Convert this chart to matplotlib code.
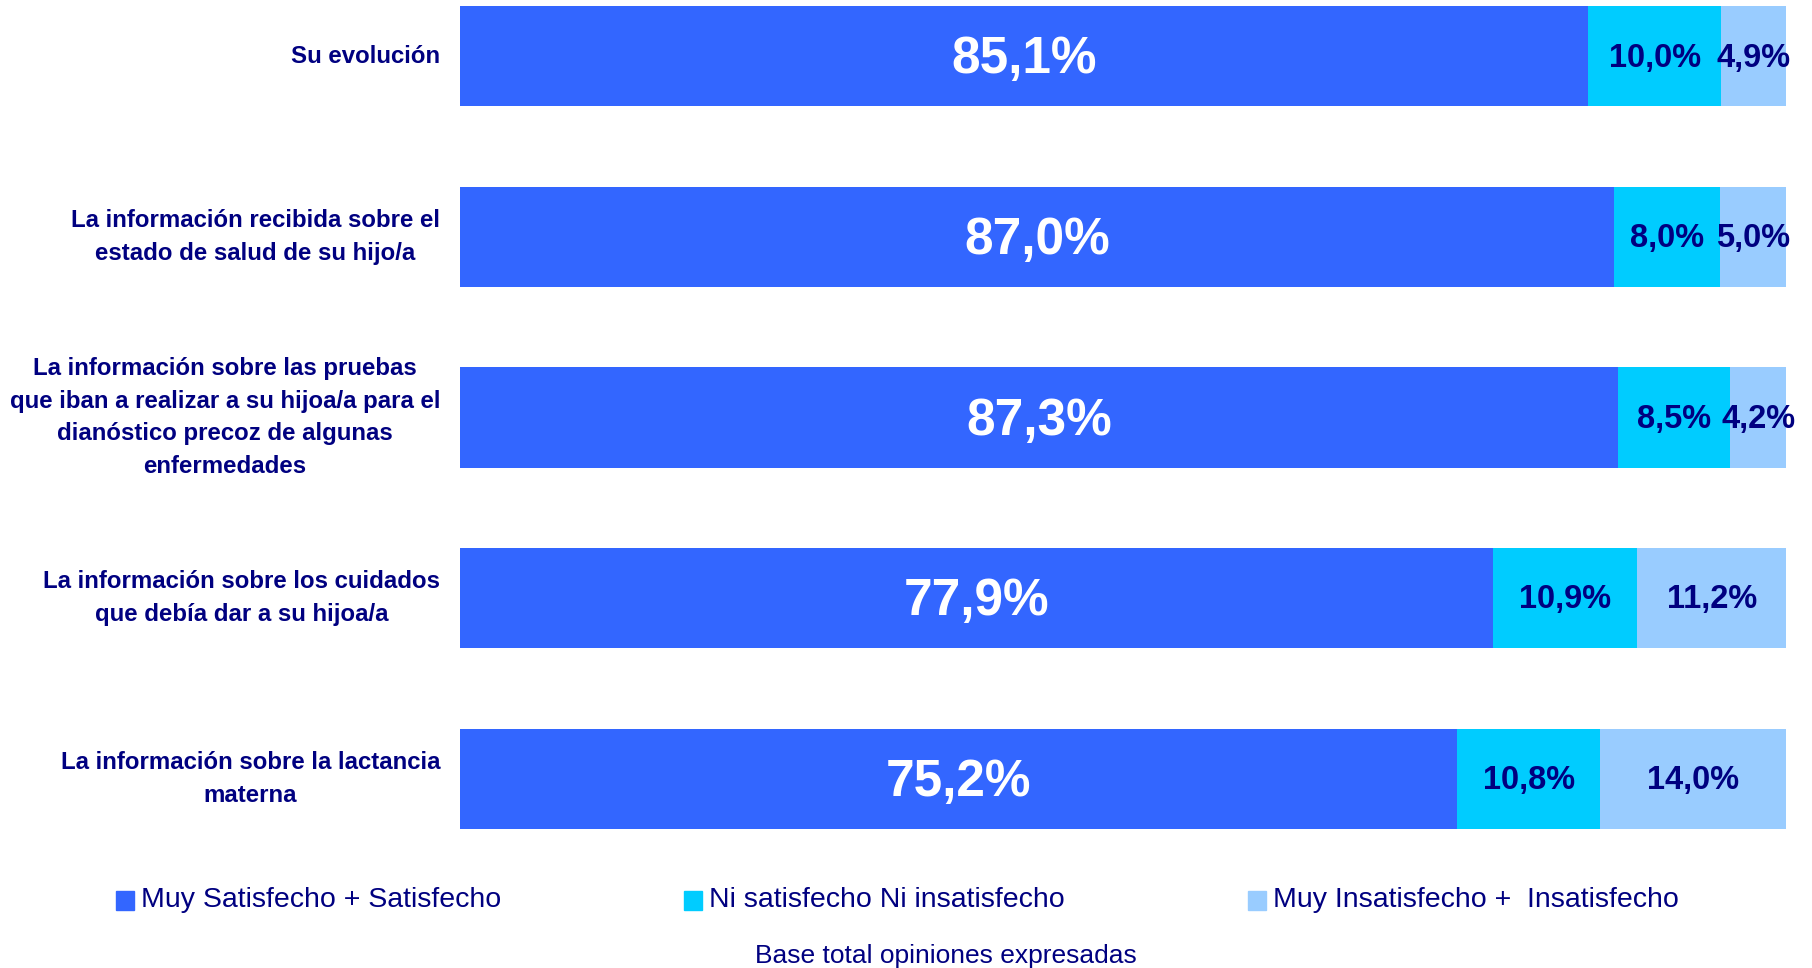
import numpy as np
import matplotlib.pyplot as plt

categories = [
    "Su evolución",
    "La información recibida sobre el\nestado de salud de su hijo/a",
    "La información sobre las pruebas\nque iban a realizar a su hijoa/a para el\ndianóstico precoz de algunas\nenfermedades",
    "La información sobre los cuidados\nque debía dar a su hijoa/a",
    "La información sobre la lactancia\nmaterna",
]
satisfecho = [85.1, 87.0, 87.3, 77.9, 75.2]
ni_ni = [10.0, 8.0, 8.5, 10.9, 10.8]
insatisfecho = [4.9, 5.0, 4.2, 11.2, 14.0]
series_names = ["Muy Satisfecho + Satisfecho", "Ni satisfecho Ni insatisfecho",
                "Muy Insatisfecho +  Insatisfecho"]
colors = ["#3366FF", "#00CCFF", "#99CCFF"]
navy = "#000080"

plt.rcParams['font.family'] = ['Liberation Sans', 'DejaVu Sans']

fig = plt.figure(figsize=(18.12, 9.68), dpi=100)
W, H = 1812, 968
ax = fig.add_axes([460 / W, 1 - 829 / H, (1786 - 460) / W, (829 - 6) / H])

y = np.arange(len(categories))
h = 0.556
left = np.zeros(len(categories))
series = [satisfecho, ni_ni, insatisfecho]
for i, vals in enumerate(series):
    vals = np.array(vals)
    ax.barh(y, vals, left=left, height=h, color=colors[i], label=series_names[i])
    for j, v in enumerate(vals):
        txt = f"{v:.1f}%".replace(".", ",")
        if i == 0:
            ax.text(left[j] + v / 2, y[j] + 0.02, txt, ha='center', va='center',
                    color='white', fontsize=37, fontweight='bold')
        else:
            ax.text(left[j] + v / 2, y[j] + 0.01, txt, ha='center', va='center',
                    color=navy, fontsize=23.5, fontweight='bold')
    left = left + vals

ax.set_xlim(0, 100)
ax.set_ylim(len(categories) - 1 + h / 2, -h / 2)
ax.axis('off')

# category labels
for j, cat in enumerate(categories):
    ax.annotate(cat, xy=(0, y[j]), xycoords='data', xytext=(-20, 0),
                textcoords='offset pixels', ha='right', va='center',
                multialignment='center', color=navy, fontsize=17.3,
                fontweight='bold', linespacing=1.55)

# legend
leg_x = [116, 684, 1248]
for i in range(3):
    fig.patches.append(plt.Rectangle((leg_x[i] / W, 1 - 910 / H), 18 / W, 19 / H,
                                     transform=fig.transFigure, color=colors[i]))
    fig.text((leg_x[i] + 25) / W, 1 - 900 / H, series_names[i],
             ha='left', va='center', color=navy, fontsize=20.5)

fig.text(946 / W, 1 - 956 / H, "Base total opiniones expresadas", ha='center',
         va='center', color=navy, fontsize=19)

fig.savefig("out.png", dpi=100)
